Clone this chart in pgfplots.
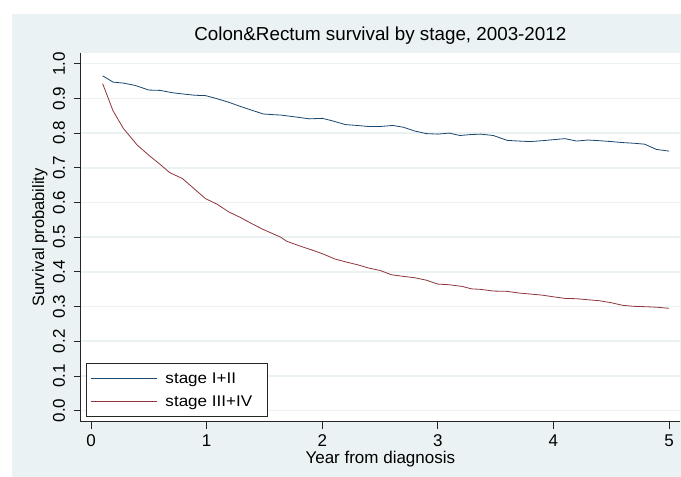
\documentclass[border=0pt]{standalone}
\usepackage{fontspec}
\setmainfont{Liberation Sans}
\newfontfamily\legfont[FakeStretch=1.1]{Liberation Sans}
\usepackage{pgfplots}
\pgfplotsset{compat=1.18}
\definecolor{bgc}{RGB}{234,242,243}
\definecolor{snavy}{RGB}{26,71,111}
\definecolor{smaroon}{RGB}{144,53,59}
\begin{document}
\begin{tikzpicture}
\path[use as bounding box] (0,0) rectangle (681pt,477pt);
\fill[white] (0,0) rectangle (681pt,477pt);
\fill[bgc] (12pt,0) rectangle (681pt,463pt);
\begin{axis}[
  at={(80.7pt,55.3pt)}, anchor=south west,
  scale only axis, width=599.3pt, height=368.4pt,
  xmin=-0.09, xmax=5.095, ymin=-0.032, ymax=1.03,
  axis background/.style={fill=white},
  axis x line*=bottom, axis y line*=left,
  axis line style={black!85, line width=0.9pt, -},
  xtick={0,1,2,3,4,5},
  ytick={0,0.1,0.2,0.3,0.4,0.5,0.6,0.7,0.8,0.9,1.0},
  y tick label style={/pgf/number format/fixed, /pgf/number format/fixed zerofill, /pgf/number format/precision=1},
  /pgf/number format/assume math mode=true,
  tick align=outside, major tick length=7pt,
  tick style={black!85, line width=0.8pt},
  ymajorgrids, grid style={bgc, line width=1.5pt},
  ticklabel style={font=\fontsize{17}{17}\selectfont},
  xticklabel style={anchor=north, inner sep=0pt, yshift=-5.6pt},
  yticklabel style={inner sep=0pt, xshift=-8.7pt, rotate=90, anchor=base},
  title={Colon\&Rectum survival by stage, 2003-2012},
  title style={at={(axis description cs:0.5,1)}, anchor=base, yshift=6.6pt, inner sep=0pt, font=\fontsize{18.8}{19}\selectfont},
  xlabel={Year from diagnosis},
  xlabel style={at={(axis description cs:0.5,0)}, anchor=base, yshift=-42.3pt, inner sep=0pt, font=\fontsize{17}{17}\selectfont},
  ylabel={Survival probability},
  ylabel style={at={(axis description cs:-0.0612,0.5)}, anchor=base, inner sep=0pt, font=\fontsize{16.5}{17}\selectfont},
  legend style={at={(axis description cs:0,0)}, anchor=south west, xshift=5pt, yshift=5pt,
    draw=black!85, line width=0.8pt, fill=white, font=\legfont\fontsize{15.5}{16}\selectfont,
    inner xsep=5pt, inner ysep=3.3pt, column sep=6pt,
    nodes={inner xsep=2pt, inner ysep=1pt, minimum height=23pt}},
  legend cell align=left,
  legend image code/.code={\draw[#1] (0pt,0pt) -- (65.6pt,0pt);},
]
\addplot[snavy, line width=0.8pt] coordinates {
(0.1,0.965) (0.19,0.947) (0.28,0.944) (0.38,0.9375) (0.5,0.924) (0.6,0.923)
(0.7,0.9165) (0.8,0.9125) (0.9,0.909) (0.99,0.908) (1.09,0.899) (1.19,0.889)
(1.29,0.877) (1.39,0.866) (1.49,0.855) (1.58,0.853) (1.64,0.852) (1.78,0.846)
(1.89,0.841) (2.0,0.8425) (2.08,0.836) (2.2,0.8245) (2.3,0.822) (2.4,0.819)
(2.5,0.819) (2.61,0.822) (2.7,0.817) (2.8,0.806) (2.9,0.7985) (3.0,0.797)
(3.1,0.800) (3.19,0.793) (3.28,0.7956) (3.37,0.797) (3.48,0.793) (3.6,0.779)
(3.7,0.777) (3.8,0.7755) (3.9,0.778) (4.0,0.781) (4.1,0.784) (4.2,0.777)
(4.3,0.780) (4.4,0.778) (4.5,0.7755) (4.6,0.7726) (4.7,0.7706) (4.79,0.768)
(4.89,0.753) (5.0,0.748)
};
\addlegendentry{stage I+II}
\addplot[smaroon, line width=0.8pt] coordinates {
(0.1,0.9425) (0.19,0.864) (0.28,0.813) (0.4,0.765) (0.5,0.736) (0.6,0.709)
(0.68,0.686) (0.79,0.669) (0.89,0.640) (0.99,0.611) (1.09,0.595) (1.19,0.573)
(1.29,0.557) (1.39,0.539) (1.49,0.522) (1.64,0.500) (1.69,0.4885) (1.81,0.474)
(1.92,0.462) (2.01,0.451) (2.11,0.437) (2.21,0.428) (2.31,0.420) (2.4,0.411)
(2.5,0.404) (2.6,0.3915) (2.7,0.387) (2.8,0.383) (2.9,0.376) (3.0,0.3647)
(3.1,0.3627) (3.21,0.358) (3.29,0.351) (3.37,0.3495) (3.48,0.3446) (3.6,0.3437)
(3.7,0.339) (3.8,0.336) (3.9,0.333) (4.0,0.328) (4.1,0.3235) (4.2,0.3225)
(4.3,0.3195) (4.4,0.3166) (4.5,0.311) (4.6,0.3034) (4.7,0.3005) (4.81,0.2994)
(4.91,0.2976) (5.0,0.2948)
};
\addlegendentry{stage III+IV\kern8pt}
\end{axis}
\end{tikzpicture}
\end{document}
